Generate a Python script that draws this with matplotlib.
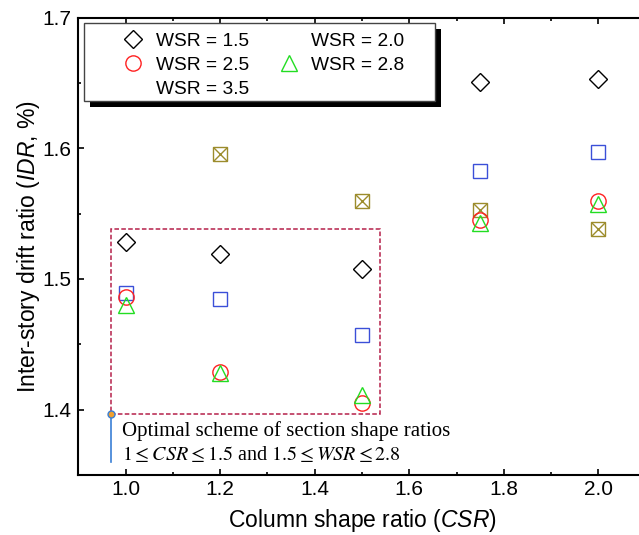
import numpy as np
import matplotlib
matplotlib.use('Agg')
import matplotlib.pyplot as plt
from matplotlib.lines import Line2D
from matplotlib.patches import Rectangle
from matplotlib.ticker import MultipleLocator

# column shape ratios tested
csr = [1.0, 1.2, 1.5, 1.75, 2.0]

# inter-story drift ratio (%) for each wall shape ratio
idr_wsr15 = [1.528, 1.519, 1.508, 1.651, 1.653]
idr_wsr20 = [1.489, 1.485, 1.457, 1.583, 1.597]
idr_wsr35 = [np.nan, 1.596, 1.560, 1.553, 1.538]
idr_wsr25 = [1.486, 1.429, 1.405, 1.545, 1.560]
idr_wsr28 = [1.480, 1.428, 1.411, 1.543, 1.557]

# optimal region (CSR range, IDR range)
box_x = [0.97, 1.5375]
box_y = [1.397, 1.538]

plt.rcParams['font.family'] = ['Liberation Sans', 'DejaVu Sans']
plt.rcParams['mathtext.fontset'] = 'custom'
plt.rcParams['mathtext.it'] = 'Liberation Sans:italic'
plt.rcParams['mathtext.rm'] = 'Liberation Sans'

fig = plt.figure(figsize=(6.39, 5.35), dpi=100)
ax = fig.add_axes([0.1225, 0.1121, 0.888, 0.855])

mew = 1.0
ax.plot(csr, idr_wsr15, ls='none', marker='D', ms=9, mfc='none', mec='k', mew=mew)
ax.plot(csr, idr_wsr20, ls='none', marker='s', ms=9.5, mfc='none', mec='#3b4fd8', mew=mew)
olive = '#9c8c2c'
ax.plot(csr, idr_wsr35, ls='none', marker='s', ms=9.5, mfc='none', mec=olive, mew=mew)
ax.plot(csr, idr_wsr35, ls='none', marker='x', ms=9.5, mec=olive, mew=mew)
ax.plot(csr, idr_wsr25, ls='none', marker='o', ms=11, mfc='none', mec='#ff2020', mew=mew)
ax.plot(csr, idr_wsr28, ls='none', marker='^', ms=11.5, mfc='none', mec='#22dd22', mew=mew)

# dashed box around the optimal scheme
ax.add_patch(Rectangle((box_x[0], box_y[0]), box_x[1] - box_x[0], box_y[1] - box_y[0],
                       fill=False, ec='#b5204a', lw=1.1, ls=(0, (3, 1.5)), zorder=1))
ax.plot([box_x[0], box_x[0]], [box_y[0], 1.360], color='#3a7fd5', lw=1.2, zorder=2)
ax.plot([box_x[0]], [box_y[0]], marker='o', ms=5, mfc='#f0a030', mec='#3a7fd5', mew=1.0, zorder=3)
ax.text(0.9915, 1.384, 'Optimal scheme of section shape ratios', family='Liberation Serif',
        fontsize=15, va='center', ha='left')
ax.text(0.9915, 1.3655, r'$1 \leq \mathit{CSR} \leq 1.5$ and $1.5 \leq \mathit{WSR} \leq 2.8$',
        family='Liberation Serif', math_fontfamily='stix', fontsize=14.5, va='center', ha='left')

ax.set_xlim(0.9, 2.1)
ax.set_ylim(1.35, 1.7)
ax.xaxis.set_major_locator(MultipleLocator(0.2))
ax.xaxis.set_minor_locator(MultipleLocator(0.1))
ax.yaxis.set_major_locator(MultipleLocator(0.1))
ax.yaxis.set_minor_locator(MultipleLocator(0.05))
ax.tick_params(which='both', direction='in', top=True, labelsize=15, width=1.2)
ax.tick_params(axis='x', which='major', length=4.5, pad=3.5)
ax.tick_params(axis='y', which='major', length=4.5, pad=5)
ax.tick_params(which='minor', length=2.5)
for s in ax.spines.values():
    s.set_linewidth(1.5)

ax.set_xlabel('Column shape ratio ($\\mathit{CSR}$)', fontsize=16.5, labelpad=6)
ax.set_ylabel('Inter-story drift ratio ($\\mathit{IDR}$, %)', fontsize=16.5, labelpad=0)

# legend frame and its solid black shadow, in axes fractions
frame_x0, frame_x1 = 0.0099, 0.628
frame_y0, frame_y1 = 0.817, 0.988
shadow = 6.0 / 457.5
ax.add_patch(Rectangle((frame_x0 + shadow * 457.5 / 567.7, frame_y0 - shadow),
                       frame_x1 - frame_x0, frame_y1 - frame_y0, transform=ax.transAxes,
                       fc='k', ec='none', zorder=4.8, clip_on=False))
ax.add_patch(Rectangle((frame_x0, frame_y0), frame_x1 - frame_x0, frame_y1 - frame_y0,
                       transform=ax.transAxes, fc='white', ec='#444444', lw=1.0,
                       zorder=4.9, clip_on=False))

handles = [
    Line2D([], [], ls='none', marker='D', ms=9, mfc='none', mec='k', mew=mew),
    Line2D([], [], ls='none', marker='o', ms=11, mfc='none', mec='#ff2020', mew=mew),
    Line2D([], [], ls='none', marker='None'),
    Line2D([], [], ls='none', marker='None'),
    Line2D([], [], ls='none', marker='^', ms=11.5, mfc='none', mec='#22dd22', mew=mew),
]
labels = ['WSR = 1.5', 'WSR = 2.5', 'WSR = 3.5', 'WSR = 2.0', 'WSR = 2.8']
leg = ax.legend(handles, labels, ncol=2, loc='upper left', bbox_to_anchor=(0.070, 0.9683),
                borderaxespad=0, borderpad=0, frameon=False, fontsize=13.8,
                handlelength=1.6, handletextpad=0.37, columnspacing=1.28,
                labelspacing=0.35)
leg.set_zorder(5)

fig.savefig('out.png', dpi=100)
